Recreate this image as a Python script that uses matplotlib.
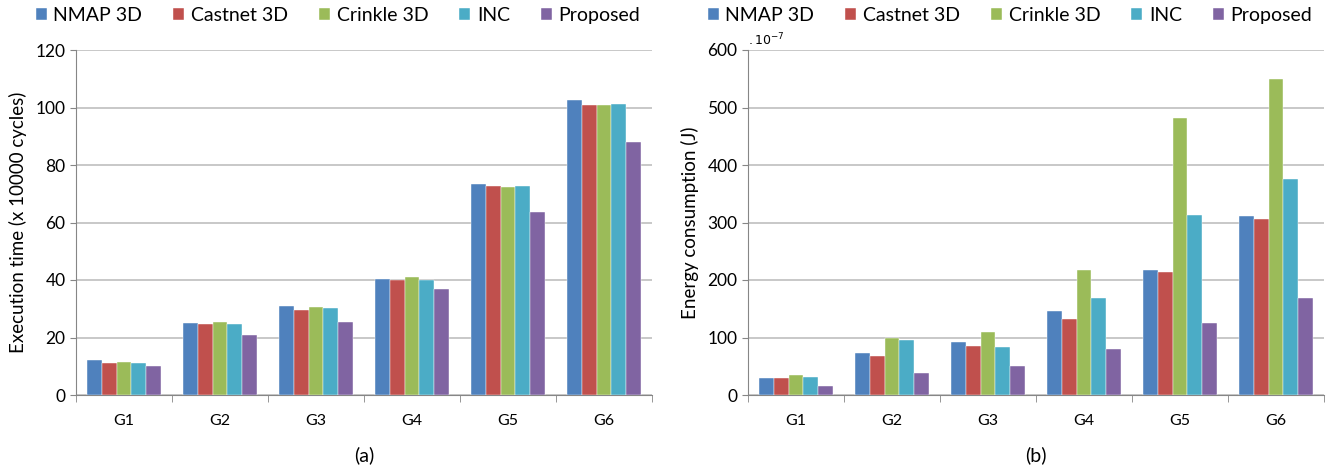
import numpy as np
import matplotlib
matplotlib.use('Agg')
import matplotlib.pyplot as plt

plt.rcParams['font.family'] = ['Lato', 'DejaVu Sans']

groups = ['G1', 'G2', 'G3', 'G4', 'G5', 'G6']
methods = ['NMAP 3D', 'Castnet 3D', 'Crinkle 3D', 'INC', 'Proposed']
colors = ['#4F81BD', '#C0504D', '#9BBB59', '#4BACC6', '#8064A2']

# execution time (x 10000 cycles)
exec_nmap = [12.1, 25.1, 30.9, 40.3, 73.5, 102.5]
exec_castnet = [11.1, 24.6, 29.6, 40.0, 72.6, 100.7]
exec_crinkle = [11.6, 25.4, 30.5, 41.2, 72.4, 100.7]
exec_inc = [11.1, 24.7, 30.3, 40.0, 72.7, 101.3]
exec_proposed = [10.2, 20.7, 25.5, 36.9, 63.5, 87.9]

# energy consumption (x 1e-7 J)
energy_nmap = [30, 73, 93, 146, 218, 311]
energy_castnet = [29, 68, 86, 132, 214, 306]
energy_crinkle = [34, 99, 109, 217, 482, 549]
energy_inc = [32, 95, 83, 169, 313, 376]
energy_proposed = [16, 38, 51, 80, 125, 169]

grid_col = '#BFBFBF'
axis_col = '#868686'


def draw(ax, series, ymax, ystep, ylabel, sub):
    x = np.arange(len(groups))
    w = 0.154
    for i, (vals, c, name) in enumerate(zip(series, colors, methods)):
        ax.bar(x + (i - 2) * w, vals, w, color=c, label=name, zorder=3,
               edgecolor='white', linewidth=0.3)
    ax.set_xlim(-0.5, len(groups) - 0.5)
    ax.set_ylim(0, ymax)
    ax.set_yticks(np.arange(0, ymax + 1, ystep))
    ax.yaxis.grid(True, color=grid_col, linewidth=1.2, zorder=0)
    ax.set_xticks(x)
    ax.set_xticklabels(groups, fontsize=11.5)
    ax.set_xticks(np.arange(-0.5, len(groups)), minor=True)
    ax.tick_params(axis='x', which='major', length=0, pad=14)
    ax.tick_params(axis='x', which='minor', length=5, color=axis_col)
    ax.tick_params(axis='y', length=4, color=axis_col, labelsize=12.5)
    for s in ['top', 'right']:
        ax.spines[s].set_visible(False)
    for s in ['left', 'bottom']:
        ax.spines[s].set_color(axis_col)
    ax.set_ylabel(ylabel, fontsize=13.5, labelpad=6)
    ax.text(0.5, -0.175, sub, transform=ax.transAxes, ha='center', va='center', fontsize=14)
    ax.legend(loc='center', bbox_to_anchor=(0.455, 1.1), ncol=5, frameon=False,
              fontsize=14, handlelength=0.55, handleheight=0.55, handletextpad=0.35,
              columnspacing=1.6, borderaxespad=0)


fig = plt.figure(figsize=(13.32, 4.71), dpi=100)
ax1 = fig.add_axes([76 / 1332, 1 - 395 / 471, 576 / 1332, 345 / 471])
ax2 = fig.add_axes([748 / 1332, 1 - 395 / 471, 576 / 1332, 345 / 471])

draw(ax1, [exec_nmap, exec_castnet, exec_crinkle, exec_inc, exec_proposed],
     120, 20, 'Execution time (x 10000 cycles)', '(a)')
draw(ax2, [energy_nmap, energy_castnet, energy_crinkle, energy_inc, energy_proposed],
     600, 100, 'Energy consumption (J)', '(b)')
ax2.text(0.0, 1.005, r'$.10^{-7}$', transform=ax2.transAxes, ha='left', va='bottom',
         fontsize=9, family='DejaVu Serif')

fig.savefig('out.png', dpi=100)
